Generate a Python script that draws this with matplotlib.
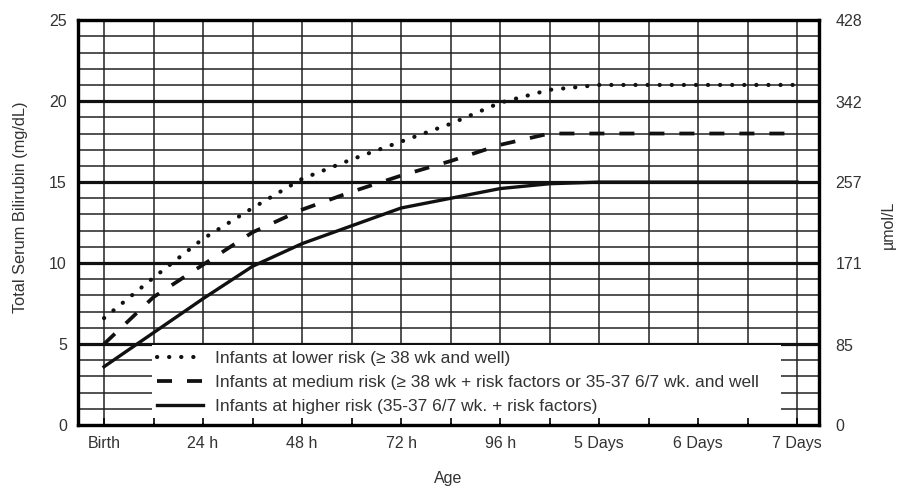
import matplotlib.pyplot as plt
from matplotlib.patches import Rectangle

plt.rcParams['font.family'] = ['Liberation Sans', 'DejaVu Sans']

# Data (age in hours, bilirubin in mg/dL)
hours = [0, 12, 24, 36, 48, 60, 72, 84, 96, 108, 120, 132, 144, 156, 168]
lower_risk = [6.6, 9.1, 11.5, 13.4, 15.2, 16.4, 17.5, 18.6, 19.9, 20.7, 21.0, 21.0, 21.0, 21.0, 21.0]
medium_risk = [5.0, 7.9, 9.9, 11.9, 13.3, 14.4, 15.4, 16.3, 17.3, 18.0, 18.0, 18.0, 18.0, 18.0, 18.0]
higher_risk = [3.6, 5.7, 7.8, 9.8, 11.2, 12.3, 13.4, 14.0, 14.6, 14.9, 15.0, 15.0, 15.0, 15.0, 15.0]

tick_hours = list(range(0, 169, 12))
tick_labels = ["Birth", "", "24 h", "", "48 h", "", "72 h", "", "96 h", "",
               "5 Days", "", "6 Days", "", "7 Days"]
mg_ticks = [0, 5, 10, 15, 20, 25]
umol_ticks = [0, 85, 171, 257, 342, 428]

labels = ["Infants at lower risk (\u2265 38 wk and well)",
          "Infants at medium risk (\u2265 38 wk + risk factors or 35-37 6/7 wk. and well",
          "Infants at higher risk (35-37 6/7 wk. + risk factors)"]

text_color = "#333333"
line_color = "#111111"
fs = 11.5

fig = plt.figure(figsize=(8.97, 4.86), dpi=100)
ax = fig.add_axes([0.087, 0.1255, 0.826, 0.833])

# grid: every 12 h and every 1 mg/dL, heavier every 5 mg/dL
for h in tick_hours:
    ax.axvline(h, color="#222222", lw=1.1, zorder=0.8)
for v in range(1, 25):
    ax.axhline(v, color="#111111" if v % 5 == 0 else "#222222",
               lw=2.3 if v % 5 == 0 else 1.1, zorder=0.8)

# white area behind the legend
ax.add_patch(Rectangle((11.6, 0.12), 164.0 - 11.6, 4.8, facecolor="white",
                       edgecolor="none", zorder=1))

ax.plot(hours, lower_risk, color=line_color, lw=3.0, linestyle=(0, (0.05, 2.85)),
        dash_capstyle="round", zorder=3, label=labels[0])
ax.plot(hours, medium_risk, color=line_color, lw=2.7, linestyle=(0, (4.0, 4.0)),
        zorder=3, label=labels[1])
ax.plot(hours, higher_risk, color=line_color, lw=2.4, zorder=3, label=labels[2])

ax.set_xlim(-6.3, 173.3)
ax.set_ylim(0, 25)
ax.set_xticks(tick_hours)
ax.set_xticklabels(tick_labels)
ax.set_yticks(mg_ticks)
ax.tick_params(axis="x", direction="in", length=5, width=1.2, pad=8,
               labelsize=fs, labelcolor=text_color)
ax.tick_params(axis="y", length=0, pad=8, labelsize=fs, labelcolor=text_color)
for s in ax.spines.values():
    s.set_linewidth(2.3)

ax.set_xlabel("Age", fontsize=fs, color=text_color, labelpad=14)
ax.set_ylabel("Total Serum Bilirubin (mg/dL)", fontsize=fs + 0.3, color=text_color,
              labelpad=15)
ax.yaxis.label.set_y(0.538)

ax.legend(loc="upper left", bbox_to_anchor=(0.106, 0.182), frameon=False,
          borderpad=0, borderaxespad=0, handlelength=2.65, handletextpad=0.69,
          labelspacing=0.5, fontsize=12.5, labelcolor=text_color)

# secondary scale in umol/L
ax2 = ax.twinx()
ax2.set_ylim(0, 428)
ax2.set_yticks(umol_ticks)
ax2.tick_params(axis="y", length=0, pad=12, labelsize=fs, labelcolor=text_color)
for s in ax2.spines.values():
    s.set_linewidth(2.3)
fig.text(888 / 897, 1 - 225 / 486, "\u00b5mol/L", rotation=90, ha="center",
         va="center", fontsize=fs, color=text_color)

fig.savefig("out.png", dpi=100)
